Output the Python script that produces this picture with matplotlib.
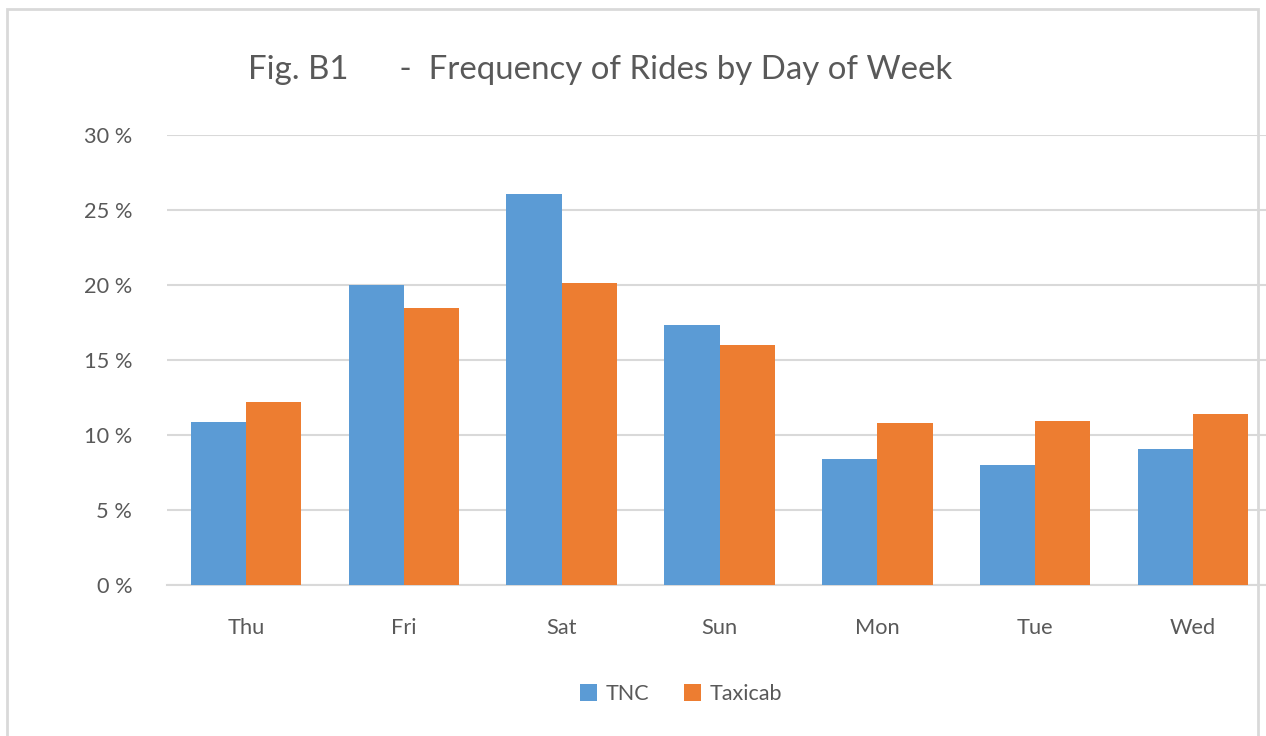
import numpy as np
import matplotlib.pyplot as plt
from matplotlib.patches import Rectangle

# data
days = ["Thu", "Fri", "Sat", "Sun", "Mon", "Tue", "Wed"]
tnc = [10.87, 20.0, 26.07, 17.33, 8.4, 8.0, 9.07]
taxicab = [12.2, 18.47, 20.13, 16.0, 10.8, 10.93, 11.4]
yticks = [0, 5, 10, 15, 20, 25, 30]

plt.rcParams['font.family'] = ['Lato', 'DejaVu Sans']
grey = "#595959"

fig = plt.figure(figsize=(12.66, 7.36), dpi=100)

# outer chart border
fig.patches.append(Rectangle((7 / 1266, -0.05), 1251 / 1266, 1.05 - 9 / 736,
                             transform=fig.transFigure, fill=False,
                             edgecolor="#D9D9D9", linewidth=2))

ax = fig.add_axes([167 / 1266, 151 / 736, 1105 / 1266, 450 / 736])

x = np.arange(len(days))
w = 0.35
ax.bar(x - w / 2, tnc, w, color="#5B9BD5", label="TNC", zorder=3)
ax.bar(x + w / 2, taxicab, w, color="#ED7D31", label="Taxicab", zorder=3)

ax.set_xlim(-0.5, len(days) - 0.5)
ax.set_ylim(0, 30)
ax.set_yticks(yticks)
ax.set_yticklabels(["%d %%" % v for v in yticks])
ax.set_xticks(x)
ax.set_xticklabels(days)
ax.tick_params(axis="y", length=0, pad=25, labelsize=15.7, labelcolor=grey)
ax.tick_params(axis="x", length=0, pad=24, labelsize=15.7, labelcolor=grey)

ax.grid(axis="y", color="#D9D9D9", linewidth=1.5, zorder=0)
for s in ["top", "left", "right"]:
    ax.spines[s].set_visible(False)
ax.spines["bottom"].set_color("#D9D9D9")
ax.spines["bottom"].set_linewidth(1.5)

fig.text(600 / 1266, 1 - 70 / 736,
         "Fig. B1      -  Frequency of Rides by Day of Week",
         ha="center", va="center", fontsize=23.8, color=grey)

fig.legend(loc="center", bbox_to_anchor=(681 / 1266, 1 - 694 / 736), ncol=2,
           frameon=False, fontsize=15.5, labelcolor=grey, handlelength=0.8,
           handleheight=0.8, columnspacing=1.6, handletextpad=0.4)

fig.savefig("out.png", dpi=100)
